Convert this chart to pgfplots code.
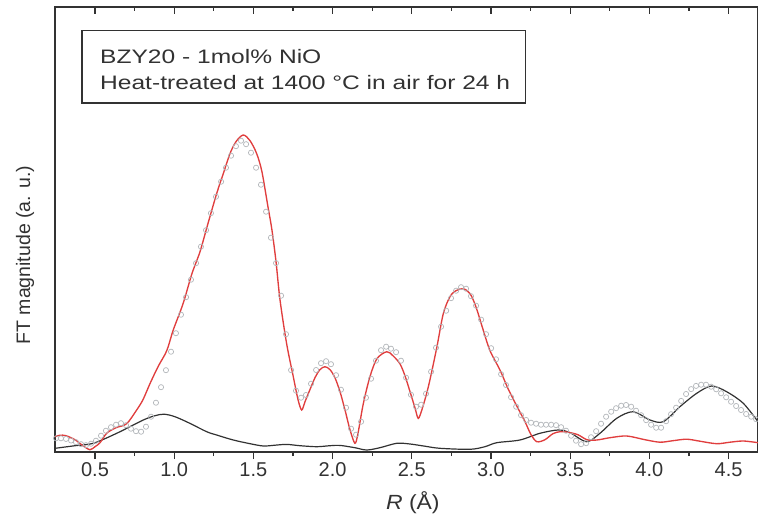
\documentclass[border=0pt]{standalone}
\usepackage{pgfplots}
\pgfplotsset{compat=1.18}
\usepackage{pgfplotstable}
\usepackage{graphicx}
\usepackage{fontspec}
\setmainfont{Liberation Sans}
\setsansfont{Liberation Sans}

\definecolor{fitred}{RGB}{224,62,62}
\definecolor{dkgray}{RGB}{50,50,50}
\definecolor{ptgray}{RGB}{178,182,186}

% measured data (open circles), R in Angstrom, magnitude in a.u.
\pgfplotstableread{
R y
0.254 13.4
0.285 13.4
0.317 12.8
0.349 11.2
0.380 9.5
0.412 7.5
0.443 6.5
0.475 8
0.506 11
0.538 16
0.569 21
0.601 24.5
0.633 27
0.664 28.5
0.696 26.5
0.727 23
0.759 20.5
0.791 20
0.822 25
0.854 35
0.885 49
0.917 64.5
0.948 81.5
0.980 100
1.011 118.5
1.043 137
1.075 154.5
1.106 172
1.138 188.5
1.169 205
1.201 221.5
1.232 238.5
1.264 255
1.296 270
1.327 284
1.359 296
1.390 305.5
1.422 311
1.454 307.5
1.485 299
1.517 284
1.548 267
1.580 240
1.611 214
1.643 188.6
1.675 156
1.706 117.5
1.738 81.6
1.769 61
1.801 54
1.832 56.7
1.864 68
1.896 81.7
1.927 88.5
1.959 90.5
1.990 87.5
2.022 76.5
2.053 62
2.085 44
2.117 23
2.148 17
2.180 30
2.211 54
2.243 73
2.274 91
2.306 101.5
2.338 105
2.369 103
2.401 99.5
2.432 91
2.464 74
2.495 57
2.527 45
2.559 47
2.590 58
2.622 80
2.653 104
2.685 125
2.717 141
2.748 153.5
2.780 161
2.811 164.5
2.843 163
2.874 155.5
2.906 146
2.938 132
2.969 117.5
3.001 103.5
3.032 92.4
3.064 77.5
3.095 66.7
3.127 54.5
3.159 45
3.190 36.5
3.222 31.7
3.253 29
3.285 28
3.316 27
3.348 27
3.380 27
3.411 26.5
3.443 24.5
3.474 21
3.506 16
3.537 11
3.569 7.5
3.601 8.5
3.632 14.5
3.664 20.5
3.695 28
3.727 35
3.759 40
3.790 43.5
3.822 46
3.853 46.7
3.885 45
3.916 41
3.948 36.5
3.980 31.5
4.011 27
4.043 24
4.074 24
4.106 30.5
4.137 37.5
4.169 44
4.201 50.8
4.232 57.7
4.264 62.6
4.295 65.8
4.327 67
4.358 67
4.390 65
4.422 62.4
4.453 58.4
4.485 54.4
4.516 50
4.548 45.7
4.579 41.7
4.611 37.7
4.643 35
4.674 32.5
}\expdata

% fit (red)
\pgfplotstableread{
R y
0.248 15
0.279 16.5
0.317 16
0.374 12
0.424 6
0.468 2
0.500 5
0.532 9
0.574 18.5
0.633 24
0.700 28
0.763 41.7
0.803 52
0.847 68
0.898 85
0.953 101
0.994 121.7
1.056 148
1.112 178
1.163 200
1.213 228
1.268 258
1.314 280
1.352 298
1.390 310
1.436 316.7
1.479 311
1.521 298
1.554 280
1.592 245
1.617 222
1.643 190
1.668 152
1.710 108
1.752 75
1.782 52
1.805 41.7
1.826 50
1.857 62
1.889 74
1.920 82
1.952 85
1.984 82
2.015 74
2.047 60
2.078 42
2.110 22
2.141 8.4
2.160 18
2.194 48
2.236 75
2.280 93
2.342 100
2.381 96
2.425 88
2.457 76
2.489 60
2.520 44
2.541 33.3
2.564 42
2.590 56
2.615 72
2.659 105
2.699 138
2.741 155
2.779 161
2.825 163
2.868 158
2.905 145
2.951 121.7
2.994 101
3.057 81.7
3.108 63
3.162 46
3.215 30
3.253 17
3.290 10
3.341 12
3.391 18
3.436 20
3.486 19.5
3.549 17
3.606 12
3.669 11.7
3.751 14
3.857 15.7
3.972 12
4.067 9.5
4.149 11
4.236 12.5
4.319 10.5
4.425 8
4.509 9.5
4.593 10.7
4.686 9
}\fitdata

% second curve (black)
\pgfplotstableread{
R y
0.248 3.4
0.374 6
0.489 8.4
0.637 18.4
0.805 31.7
0.879 36
0.936 37.5
1.005 35
1.100 28.3
1.205 20
1.268 16.7
1.373 11.7
1.479 8
1.563 5.7
1.636 6.5
1.710 7.3
1.794 6
1.900 5
1.984 6
2.047 6.3
2.141 4
2.215 1.7
2.299 4
2.405 8.4
2.489 7.7
2.583 5.5
2.678 3.4
2.867 2.4
2.962 5
3.036 9
3.183 11.7
3.309 18.4
3.425 21.7
3.499 19
3.604 10
3.688 18.4
3.794 33.4
3.898 40
4.004 31.7
4.088 30
4.193 45
4.299 58.4
4.393 65.7
4.488 60
4.593 48.4
4.686 30
}\blackdata

\begin{document}
\begin{tikzpicture}[x=1pt,y=1pt]
\useasboundingbox (-55,-63.3) rectangle (703,451.7);
\pgfplotsset{
  common/.style={
    at={(0,0)}, anchor=south west,
    scale only axis, width=703pt, height=444.7pt,
    xmin=0.2475, xmax=4.686, ymin=0, ymax=444.7,
    xtick={0.5,1,...,4.5}, minor x tick num=1, ytick=\empty,
    major tick length=7.5pt, minor tick length=4.5pt,
    tick style={dkgray, line width=1.2pt},
  }
}
\begin{axis}[
  common,
  xtick pos=left, tick align=outside,
  axis line style={dkgray, line width=1.6pt},
  xticklabel style={/pgf/number format/.cd, fixed, fixed zerofill, precision=1, assume math mode=true},
  ticklabel style={font=\fontsize{20}{24}\selectfont, text=dkgray},
  xlabel={\scalebox{1.12}[1]{\textit{R} (Å)}},
  xlabel style={at={(axis description cs:0.509,-0.115)}, anchor=center, font=\fontsize{20.5}{24}\selectfont, text=dkgray},
  ylabel={FT magnitude (a. u.)},
  ylabel style={at={(axis description cs:-0.0427,0.442)}, anchor=center, font=\fontsize{19.5}{24}\selectfont, text=dkgray},
]
\addplot[only marks, mark=o, mark size=2.6pt, ptgray, mark options={line width=0.7pt}] table[x=R, y=y] {\expdata};
\addplot[smooth, tension=0.5, dkgray, line width=1.2pt] table[x=R, y=y] {\blackdata};
\addplot[smooth, tension=0.5, fitred, line width=1.35pt] table[x=R, y=y] {\fitdata};

\draw[dkgray, line width=1.2pt] (rel axis cs:0.0384,0.784) rectangle (rel axis cs:0.6696,0.948);
\node[anchor=base west, inner sep=0, font=\fontsize{19.5}{22}\selectfont, text=dkgray] at (rel axis cs:0.064,0.8734) {\scalebox{1.26}[1]{BZY20 - 1mol\% NiO}};
\node[anchor=base west, inner sep=0, font=\fontsize{19.5}{22}\selectfont, text=dkgray] at (rel axis cs:0.064,0.8149) {\scalebox{1.26}[1]{Heat-treated at 1400 °C in air for 24 h}};
\end{axis}
\begin{axis}[
  common,
  xtick pos=right, tick align=inside,
  axis line style={draw=none},
  xticklabels={},
]
\end{axis}
\end{tikzpicture}
\end{document}
